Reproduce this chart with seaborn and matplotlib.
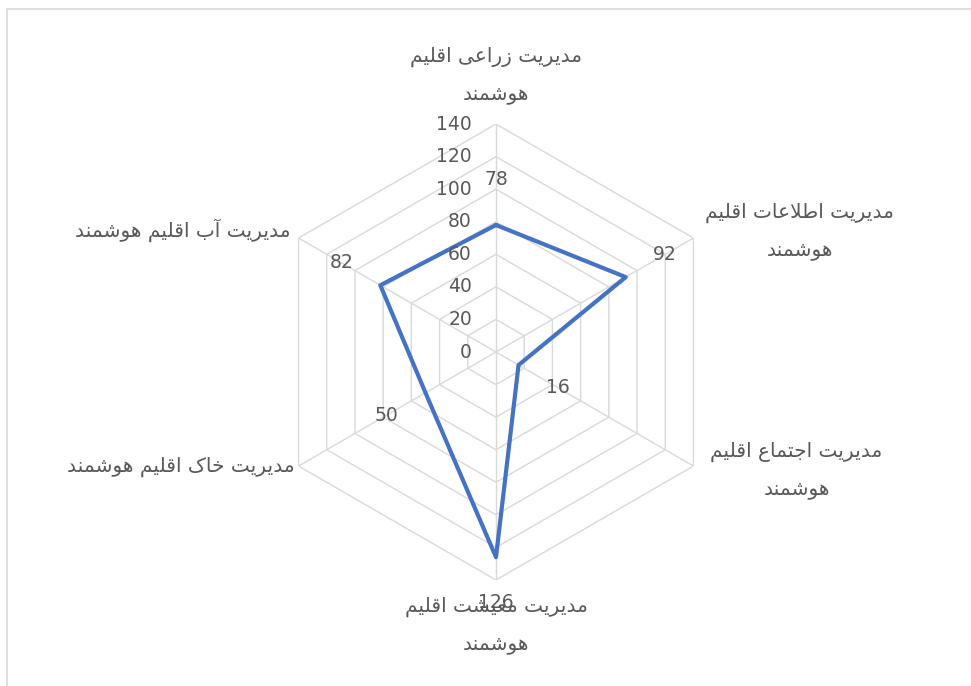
import numpy as np
import matplotlib
matplotlib.use("Agg")
import matplotlib.pyplot as plt
import seaborn as sns

# data
categories = [
    "مدیریت زراعی اقلیم\nهوشمند",
    "مدیریت اطلاعات اقلیم\nهوشمند",
    "مدیریت اجتماع اقلیم\nهوشمند",
    "مدیریت معیشت اقلیم\nهوشمند",
    "مدیریت خاک اقلیم هوشمند",
    "مدیریت آب اقلیم هوشمند",
]
values = [78, 92, 16, 126, 50, 82]
r_ticks = [0, 20, 40, 60, 80, 100, 120, 140]

# minimal arabic/persian shaping: (isolated, final, initial, medial)
FORMS = {
    "ا": ("\uFE8D", "\uFE8E", None, None),
    "آ": ("\uFE81", "\uFE82", None, None),
    "ب": ("\uFE8F", "\uFE90", "\uFE91", "\uFE92"),
    "ت": ("\uFE95", "\uFE96", "\uFE97", "\uFE98"),
    "ج": ("\uFE9D", "\uFE9E", "\uFE9F", "\uFEA0"),
    "خ": ("\uFEA5", "\uFEA6", "\uFEA7", "\uFEA8"),
    "د": ("\uFEA9", "\uFEAA", None, None),
    "ر": ("\uFEAD", "\uFEAE", None, None),
    "ز": ("\uFEAF", "\uFEB0", None, None),
    "ش": ("\uFEB5", "\uFEB6", "\uFEB7", "\uFEB8"),
    "ط": ("\uFEC1", "\uFEC2", "\uFEC3", "\uFEC4"),
    "ع": ("\uFEC9", "\uFECA", "\uFECB", "\uFECC"),
    "ق": ("\uFED5", "\uFED6", "\uFED7", "\uFED8"),
    "ل": ("\uFEDD", "\uFEDE", "\uFEDF", "\uFEE0"),
    "م": ("\uFEE1", "\uFEE2", "\uFEE3", "\uFEE4"),
    "ن": ("\uFEE5", "\uFEE6", "\uFEE7", "\uFEE8"),
    "ه": ("\uFEE9", "\uFEEA", "\uFEEB", "\uFEEC"),
    "و": ("\uFEED", "\uFEEE", None, None),
    "ک": ("\uFB8E", "\uFB8F", "\uFB90", "\uFB91"),
    "ی": ("\uFBFC", "\uFBFD", "\uFBFE", "\uFBFF"),
}


def joins_next(ch):
    return ch in FORMS and FORMS[ch][2] is not None


def shape_line(text):
    out = []
    i = 0
    n = len(text)
    while i < n:
        ch = text[i]
        if ch not in FORMS:
            out.append(ch)
            i += 1
            continue
        prev = text[i - 1] if i > 0 else ""
        nxt = text[i + 1] if i + 1 < n else ""
        from_prev = joins_next(prev)
        # lam-alef ligature
        if ch == "ل" and nxt == "ا":
            out.append("\uFEFC" if from_prev else "\uFEFB")
            i += 2
            continue
        to_next = joins_next(ch) and nxt in FORMS
        iso, fin, ini, med = FORMS[ch]
        if from_prev and to_next:
            out.append(med)
        elif from_prev:
            out.append(fin)
        elif to_next:
            out.append(ini)
        else:
            out.append(iso)
        i += 1
    return "".join(out)[::-1]


def rtl(text):
    return "\n".join(shape_line(line) for line in text.split("\n"))


sns.set_theme(style="white")
plt.rcParams["font.family"] = ["DejaVu Sans"]
text_color = "#595959"
grid_color = "#d9d9d9"
line_color = "#4472C4"

fig = plt.figure(figsize=(9.71, 6.86), dpi=100)
ax = fig.add_axes([0.276, 0.1545, 0.4696, 0.6647], projection="polar")
ax.set_theta_offset(np.pi / 2)
ax.set_theta_direction(-1)
ax.set_ylim(0, 140)
ax.grid(False)
ax.spines["polar"].set_visible(False)
ax.set_xticks([])
ax.set_yticks([])
ax.patch.set_alpha(0)

n = len(values)
theta = np.linspace(0, 2 * np.pi, n, endpoint=False)
theta_closed = np.append(theta, theta[0] + 2 * np.pi)

# hexagon grid + spokes
for r in r_ticks[1:]:
    ax.plot(theta_closed, [r] * (n + 1), color=grid_color, lw=1, zorder=1)
for t in theta:
    ax.plot([t, t], [0, 140], color=grid_color, lw=1, zorder=1)

sns.lineplot(x=theta_closed, y=values + [values[0]], sort=False, ax=ax,
             color=line_color, lw=3, zorder=3)
ax.set_xlabel("")
ax.set_ylabel("")

# radial tick labels
for r in r_ticks:
    ax.annotate(str(r), xy=(0, r), xytext=(-24, 0), textcoords="offset pixels",
                ha="right", va="center", fontsize=13.5, color=text_color)

# data labels
for t, v in zip(theta, values):
    ax.annotate(str(v), xy=(t, v), xytext=(45 * np.sin(t), 45 * np.cos(t)),
                textcoords="offset pixels", ha="center", va="center",
                fontsize=13.5, color=text_color, zorder=4)

# category labels
label_pos = [
    ((0, 20), "center", "bottom"),
    ((12, 7), "left", "center"),
    ((17, -4), "left", "center"),
    ((0, -17), "center", "top"),
    ((-4, -1), "right", "center"),
    ((-8, 8), "right", "center"),
]
for t, cat, (off, ha, va) in zip(theta, categories, label_pos):
    ax.annotate(rtl(cat), xy=(t, 140), xytext=off, textcoords="offset pixels",
                ha=ha, va=va, multialignment="center", linespacing=2.15,
                fontsize=14.5, color=text_color, annotation_clip=False)

# chart border (left/top visible, rest cropped)
fig.patches.append(plt.Rectangle((7 / 971, -0.1), 1.2, 1.1 - 9 / 686,
                                 transform=fig.transFigure, fill=False,
                                 edgecolor=grid_color, lw=1.2))

fig.savefig("out.png", dpi=100)
